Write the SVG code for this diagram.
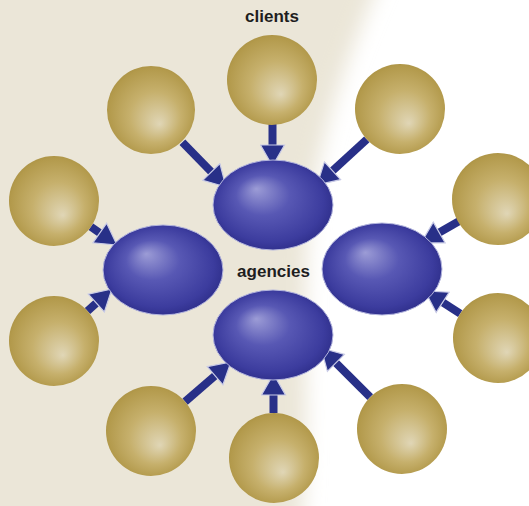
<svg xmlns="http://www.w3.org/2000/svg" width="529" height="506" viewBox="0 0 529 506">
  <defs>
    <radialGradient id="gold" cx="50%" cy="50%" r="58%" fx="60%" fy="66%">
      <stop offset="0" stop-color="#e0d6b6"/>
      <stop offset="0.5" stop-color="#c6b06c"/>
      <stop offset="0.85" stop-color="#b39a4c"/>
      <stop offset="1" stop-color="#a38a3c"/>
    </radialGradient>
    <radialGradient id="blue" cx="50%" cy="50%" r="56%" fx="36%" fy="32%">
      <stop offset="0" stop-color="#9c9cd6"/>
      <stop offset="0.4" stop-color="#5858b4"/>
      <stop offset="0.8" stop-color="#3c3c9e"/>
      <stop offset="1" stop-color="#2a2a84"/>
    </radialGradient>
    <filter id="soft" x="-20%" y="-20%" width="140%" height="140%">
      <feGaussianBlur stdDeviation="10"/>
    </filter>
    <marker id="head" markerUnits="userSpaceOnUse" markerWidth="24" markerHeight="26" refX="11" refY="12" orient="auto" viewBox="-1 -1 24 26">
      <path d="M0,0 L21,12 L0,24 Z" fill="#283088" stroke="#c9cbe6" stroke-width="1.2" stroke-linejoin="miter"/>
    </marker>
    <style>
      .client { fill: url(#gold); }
      .agency { fill: url(#blue); stroke: #b4b6de; stroke-width: 1; }
      .arrow { stroke: #283088; stroke-width: 8; fill: none; marker-end: url(#head); }
      .label { font-family: "Liberation Sans", Arial, sans-serif; font-weight: bold; font-size: 17px; fill: #1e1e1e; text-anchor: middle; }
    </style>
  </defs>

  <rect x="0" y="0" width="529" height="506" fill="#ffffff"/>
  <path d="M-30,-30 L385,-30 C345,60 312,150 307,250 C302,350 312,430 300,540 L-30,540 Z" fill="#ebe6d8" filter="url(#soft)"/>

  <g id="connectors">
    <line class="arrow" x1="182.4" y1="142.2" x2="219" y2="179.8"/>
    <line class="arrow" x1="272.5" y1="124" x2="272.5" y2="156"/>
    <line class="arrow" x1="366.8" y1="139.4" x2="324.4" y2="178.2"/>
    <line class="arrow" x1="90.9" y1="226.8" x2="108.8" y2="239.3"/>
    <line class="arrow" x1="87.5" y1="311" x2="104.5" y2="295.7"/>
    <line class="arrow" x1="458.9" y1="221.3" x2="429.7" y2="238"/>
    <line class="arrow" x1="460.2" y1="313.6" x2="433.4" y2="296.4"/>
    <line class="arrow" x1="185.1" y1="401.6" x2="223.4" y2="368.5"/>
    <line class="arrow" x1="273.5" y1="413" x2="273.5" y2="384"/>
    <line class="arrow" x1="370.2" y1="397.2" x2="328.1" y2="355.1"/>
  </g>

  <g id="agency-top"><ellipse class="agency" cx="273" cy="205" rx="60" ry="45"/></g>
  <g id="agency-left"><ellipse class="agency" cx="163" cy="270" rx="60" ry="45"/></g>
  <g id="agency-right"><ellipse class="agency" cx="382" cy="269" rx="60" ry="46"/></g>
  <g id="agency-bottom"><ellipse class="agency" cx="273" cy="335" rx="60" ry="45"/></g>

  <g id="client-top"><circle class="client" cx="272" cy="80" r="45"/></g>
  <g id="client-top-left"><circle class="client" cx="151" cy="110" r="44"/></g>
  <g id="client-top-right"><circle class="client" cx="400" cy="109" r="45"/></g>
  <g id="client-left-upper"><circle class="client" cx="54" cy="201" r="45"/></g>
  <g id="client-left-lower"><circle class="client" cx="54" cy="341" r="45"/></g>
  <g id="client-right-upper"><circle class="client" cx="498" cy="199" r="46"/></g>
  <g id="client-right-lower"><circle class="client" cx="498" cy="338" r="45"/></g>
  <g id="client-bottom-left"><circle class="client" cx="151" cy="431" r="45"/></g>
  <g id="client-bottom"><circle class="client" cx="274" cy="458" r="45"/></g>
  <g id="client-bottom-right"><circle class="client" cx="402" cy="429" r="45"/></g>

  <text class="label" x="272" y="22">clients</text>
  <text class="label" x="273.5" y="277">agencies</text>
</svg>
